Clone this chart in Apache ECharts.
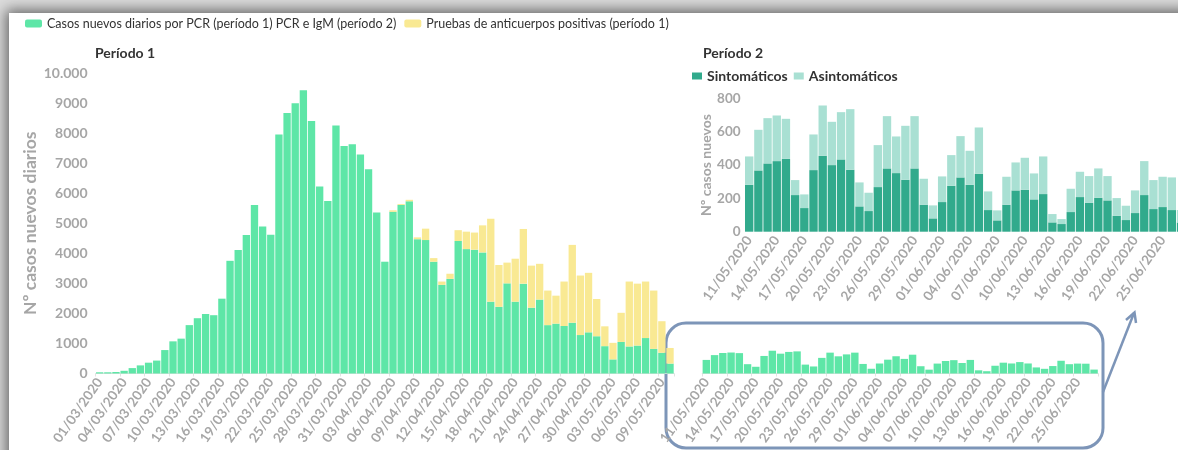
<!DOCTYPE html>
<html>
<head>
<meta charset="utf-8">
<script src="https://cdn.jsdelivr.net/npm/echarts@6/dist/echarts.min.js"></script>
<style>
html,body{margin:0;padding:0;background:#dcdcdc;overflow:hidden}
#card{position:absolute;left:9px;top:13px;width:1220px;height:480px;background:#fff;box-shadow:0 0 13px 3px rgba(0,0,0,.55)}
#chart{position:absolute;left:0;top:0;width:1178px;height:450px}
</style>
</head>
<body>
<div id="card"></div>
<div id="chart"></div>
<script>
// fechas dd/mm/yyyy
function dayList(y, m, d, n){
    let out = [];
    for(let i=0;i<n;i++){
        let dt = new Date(Date.UTC(y, m-1, d+i));
        let dd = String(dt.getUTCDate()).padStart(2,'0');
        let mm = String(dt.getUTCMonth()+1).padStart(2,'0');
        out.push(dd+'/'+mm+'/'+dt.getUTCFullYear());
    }
    return out;
}

const period1Dates = dayList(2020,3,1,71);   // 01/03 - 10/05
const period2Dates = dayList(2020,5,11,48);  // 11/05 - 27/06

// periodo 1: casos PCR y pruebas de anticuerpos (apiladas)
const pcr1 = [40,40,50,90,180,270,360,430,780,1070,1160,1610,1840,1980,1940,2490,3750,4110,4610,5610,
    4890,4620,7950,8670,8990,9430,8400,6220,5740,8250,7570,7630,7290,6800,5360,
    3720,5380,5610,5730,4470,4440,3720,2950,3150,4410,4140,4120,4030,2390,2220,3000,2390,2990,2190,2460,
    1610,1660,1580,1690,1280,1370,1240,910,470,1050,900,930,1180,820,690,330];
const anticuerpos1 = [0,0,0,0,0,0,0,0,0,0,0,0,0,0,0,0,0,0,0,0,0,0,0,0,0,0,0,0,0,0,0,0,0,0,0,0,
    50,30,50,60,380,120,110,170,360,580,570,900,2760,1390,690,1430,1820,1400,1190,1150,930,1480,2590,
    1980,1980,1240,660,550,970,2160,2060,1880,1940,1050,520];

// periodo 2
const sintomaticos = [282,368,410,424,438,220,142,370,456,400,434,372,152,124,268,380,352,312,380,162,
    80,178,276,326,282,348,130,68,162,248,252,194,226,56,46,118,208,174,204,188,96,70,112,220,136,148,130,55];
const asintomaticos = [170,244,272,274,240,90,82,214,302,260,284,364,144,110,252,314,220,324,314,156,
    78,154,184,248,204,278,112,60,168,168,192,156,226,50,30,140,152,160,176,146,106,86,136,204,174,182,196,75];
const total2 = sintomaticos.map((v,i)=>v+asintomaticos[i]);

const yTicks1 = [0,1000,2000,3000,4000,5000,6000,7000,8000,9000,10000];

const FONT = 'Lato, "Noto Sans", sans-serif';
const GRAY = '#a6a6a6';
const nameCasos = 'Casos nuevos diarios por PCR (período 1) PCR e IgM (período 2)';
const nameAnti = 'Pruebas de anticuerpos positivas (período 1)';

let chart = echarts.init(document.getElementById('chart'));

let xLabel = {interval:2, rotate:55, color:GRAY, fontWeight:'bold', fontSize:13.5, fontFamily:FONT, margin:6};
let xLine = {show:true, lineStyle:{color:'#e2e2e2'}};
let xTick = {show:true, length:3, lineStyle:{color:'#e2e2e2'}};

let option = {
    animation:false,
    textStyle:{fontFamily:FONT},
    title:[
        {text:'Período 1', left:95, top:46, padding:0, textStyle:{fontSize:14, fontWeight:'bold', color:'#333', fontFamily:FONT}},
        {text:'Período 2', left:703, top:46, padding:0, textStyle:{fontSize:14, fontWeight:'bold', color:'#333', fontFamily:FONT}}
    ],
    legend:[
        {
            data:[nameCasos, nameAnti],
            left:25, top:17, padding:0,
            icon:'roundRect', itemWidth:17, itemHeight:8, itemGap:8,
            textStyle:{fontSize:12.5, color:'#333', fontFamily:FONT}
        },
        {
            data:['Sintomáticos','Asintomáticos'],
            left:692, top:69, padding:0,
            icon:'rect', itemWidth:10, itemHeight:7, itemGap:6,
            textStyle:{fontSize:14, fontWeight:'bold', color:'#333', fontFamily:FONT}
        }
    ],
    grid:[
        {left:95.6, top:73, width:578.5, height:300.5, containLabel:false, outerBoundsMode:'none'},
        {left:702.2, top:73, width:396, height:300.5, containLabel:false, outerBoundsMode:'none'},
        {left:744.6, top:98.5, width:441, height:133.2, containLabel:false, outerBoundsMode:'none'}
    ],
    xAxis:[
        {type:'category', gridIndex:0, data:period1Dates, axisLabel:xLabel, axisLine:xLine, axisTick:xTick},
        {type:'category', gridIndex:1, data:period2Dates, axisLabel:xLabel, axisLine:xLine, axisTick:xTick},
        {type:'category', gridIndex:2, data:period2Dates, axisLabel:xLabel,
            axisLine:{show:false}, axisTick:{show:false}}
    ],
    yAxis:[
        {
            type:'value', gridIndex:0, min:yTicks1[0], max:yTicks1[yTicks1.length-1], interval:1000,
            name:'Nº casos nuevos diarios', nameLocation:'middle', nameGap:34, nameRotate:90,
            nameTextStyle:{color:GRAY, fontSize:17.5, fontWeight:'bold', fontFamily:FONT},
            axisLabel:{color:GRAY, fontSize:14, fontWeight:'bold', fontFamily:FONT, margin:8,
                formatter:function(v){ return v===10000 ? '10.000' : String(v); }},
            axisLine:{show:false}, axisTick:{show:false}, splitLine:{show:false}
        },
        {type:'value', gridIndex:1, min:0, max:10000, show:false, splitLine:{show:false}},
        {
            type:'value', gridIndex:2, min:0, max:800, interval:200,
            name:'Nº casos nuevos', nameLocation:'middle', nameGap:31, nameRotate:90,
            nameTextStyle:{color:GRAY, fontSize:14, fontWeight:'bold', fontFamily:FONT},
            axisLabel:{color:GRAY, fontSize:13.5, fontWeight:'bold', fontFamily:FONT, margin:4},
            axisLine:{show:false}, axisTick:{show:false}, splitLine:{show:false}
        }
    ],
    series:[
        {name:nameCasos, type:'bar', xAxisIndex:0, yAxisIndex:0, stack:'p1', data:pcr1,
            barCategoryGap:'10%', itemStyle:{color:'#5ee6a7'}},
        {name:nameAnti, type:'bar', xAxisIndex:0, yAxisIndex:0, stack:'p1', data:anticuerpos1,
            barCategoryGap:'10%', itemStyle:{color:'#f9e993'}},
        {name:nameCasos, type:'bar', xAxisIndex:1, yAxisIndex:1, data:total2,
            barCategoryGap:'10%', itemStyle:{color:'#5ee6a7'}},
        {name:'Sintomáticos', type:'bar', xAxisIndex:2, yAxisIndex:2, stack:'p2', data:sintomaticos,
            barCategoryGap:'9%', itemStyle:{color:'#31aa8c'}},
        {name:'Asintomáticos', type:'bar', xAxisIndex:2, yAxisIndex:2, stack:'p2', data:asintomaticos,
            barCategoryGap:'9%', itemStyle:{color:'#a9e0d3'}}
    ],
    graphic:[
        {type:'rect', shape:{x:666, y:323, width:437, height:125, r:20}, silent:true,
            style:{fill:'none', stroke:'#7d95b8', lineWidth:3}},
        {type:'line', shape:{x1:1103, y1:392, x2:1134, y2:313}, silent:true,
            style:{stroke:'#7d95b8', lineWidth:2.5}},
        {type:'polyline', shape:{points:[[1126,320],[1134.5,312.5],[1136,323]]}, silent:true,
            style:{fill:'none', stroke:'#7d95b8', lineWidth:2.5}}
    ]
};
chart.setOption(option);
</script>
</body>
</html>
